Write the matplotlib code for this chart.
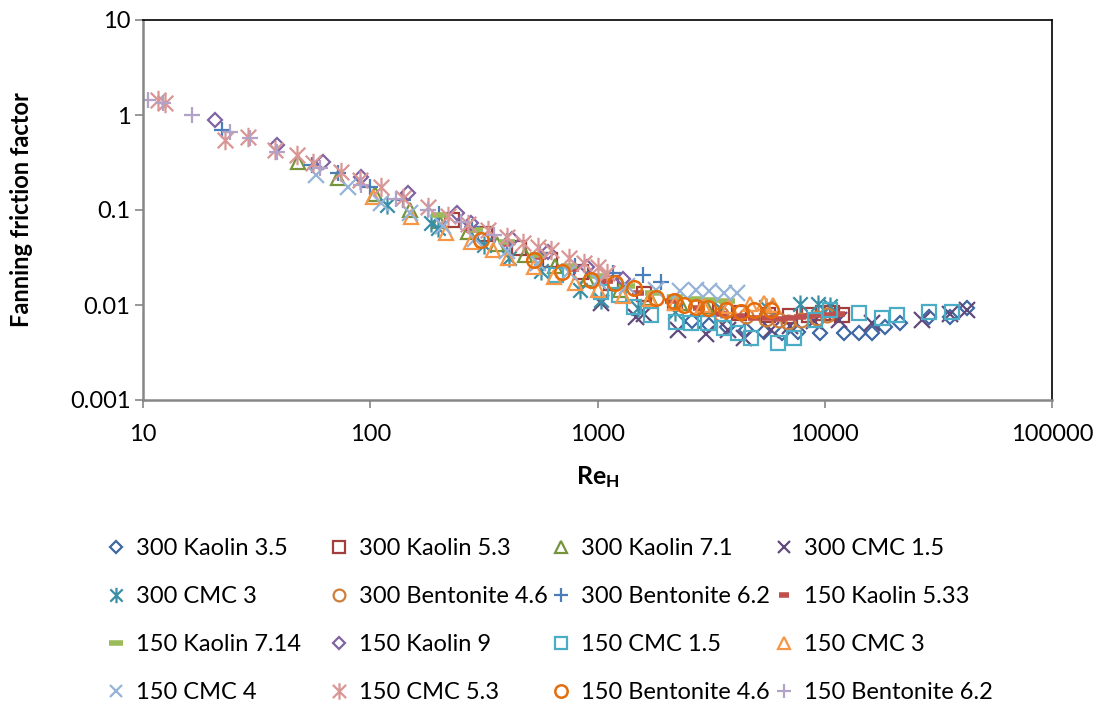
import matplotlib
matplotlib.use("Agg")
import matplotlib.pyplot as plt
from matplotlib.path import Path
from matplotlib.ticker import FixedLocator, FixedFormatter, NullLocator

plt.rcParams['font.family'] = ['Lato', 'DejaVu Sans']
plt.rcParams['mathtext.fontset'] = 'custom'
plt.rcParams['mathtext.bf'] = 'Lato:bold'
plt.rcParams['mathtext.rm'] = 'Lato'

FS = 17

# ---------------- data (Re_H, Fanning friction factor) ----------------
re_300_kaolin_35 = [2600, 3100, 3700, 4500, 5400, 6500, 7600, 9500, 12200, 14200, 16100, 18500, 21400, 28700, 35500, 42200]
f_300_kaolin_35 = [0.0068, 0.0062, 0.0058, 0.0055, 0.0052, 0.0051, 0.0052, 0.0051, 0.0051, 0.0051, 0.0051, 0.0058, 0.0065, 0.0075, 0.0075, 0.0092]

re_300_kaolin_53 = [230, 320, 450, 620, 850, 1150, 1600, 2200, 3000, 4200, 5600, 7000, 8500, 9800, 10800, 11900]
f_300_kaolin_53 = [0.078, 0.056, 0.040, 0.030, 0.022, 0.017, 0.013, 0.0105, 0.0090, 0.0082, 0.0078, 0.0076, 0.0078, 0.0082, 0.0083, 0.0079]

re_300_kaolin_71 = [48, 72, 105, 150, 200, 270, 360, 480, 650, 900, 1250, 1700, 2300, 3000]
f_300_kaolin_71 = [0.32, 0.215, 0.148, 0.100, 0.076, 0.058, 0.044, 0.034, 0.026, 0.019, 0.0145, 0.0118, 0.0105, 0.0098]

re_300_cmc_15 = [1035, 1480, 1600, 2260, 3000, 3770, 4430, 5820, 7000, 9000, 11600, 16100, 26700, 35500, 42200]
f_300_cmc_15 = [0.0105, 0.0075, 0.0080, 0.0055, 0.0050, 0.0055, 0.0045, 0.0055, 0.0060, 0.0068, 0.0070, 0.0065, 0.0070, 0.0080, 0.0088]

re_300_cmc_3 = [119, 185, 198, 316, 407, 563, 841, 1035, 1500, 2200, 3500, 5500, 7800, 9300, 10500]
f_300_cmc_3 = [0.113, 0.073, 0.065, 0.043, 0.031, 0.023, 0.0144, 0.0114, 0.0092, 0.0085, 0.0090, 0.0095, 0.0103, 0.0103, 0.0098]

re_300_bent_46 = [3500, 4500, 5500, 6300, 6900, 7900, 9200, 10200]
f_300_bent_46 = [0.0080, 0.0076, 0.0072, 0.0070, 0.0066, 0.0070, 0.0073, 0.0078]

re_300_bent_62 = [22.3, 55.6, 72.4, 100, 140, 200, 280, 400, 560, 800, 1170, 1590, 1900]
f_300_bent_62 = [0.695, 0.298, 0.245, 0.175, 0.128, 0.090, 0.066, 0.047, 0.035, 0.026, 0.0216, 0.0207, 0.0175]

re_150_kaolin_533 = [280, 400, 560, 780, 1100, 1500, 2100, 2800, 3500, 4200, 4900, 5600, 6300, 7000, 7800, 8600, 9500, 10500, 11500]
f_150_kaolin_533 = [0.062, 0.044, 0.032, 0.024, 0.018, 0.0135, 0.011, 0.0092, 0.0080, 0.0076, 0.0073, 0.0073, 0.0072, 0.0073, 0.0074, 0.0076, 0.0078, 0.0079, 0.0081]

re_150_kaolin_714 = [200, 290, 400, 550, 750, 1000, 1350, 1750, 2200, 2700, 3200, 3700]
f_150_kaolin_714 = [0.088, 0.062, 0.046, 0.034, 0.026, 0.020, 0.016, 0.0135, 0.0122, 0.0115, 0.0112, 0.0110]

re_150_kaolin_9 = [20.8, 39, 62, 90.6, 146, 242, 277, 420, 605, 900, 1300]
f_150_kaolin_9 = [0.886, 0.483, 0.32, 0.222, 0.151, 0.093, 0.073, 0.050, 0.036, 0.025, 0.019]

re_150_cmc_15 = [656, 1035, 1240, 1450, 1720, 2220, 2580, 3070, 3610, 4170, 4750, 6250, 7360, 9020, 10500, 14100, 17800, 20700, 28700, 36200]
f_150_cmc_15 = [0.0207, 0.0137, 0.0127, 0.0095, 0.0078, 0.0066, 0.0064, 0.0064, 0.0057, 0.0051, 0.0045, 0.0040, 0.0045, 0.0070, 0.0089, 0.0083, 0.0073, 0.0078, 0.0084, 0.0084]

re_150_cmc_3 = [103, 151, 215, 277, 346, 403, 525, 643, 800, 1000, 1300, 1700, 2200, 2900, 3800, 4700, 5400, 5900]
f_150_cmc_3 = [0.137, 0.084, 0.057, 0.046, 0.0377, 0.0316, 0.025, 0.0197, 0.017, 0.0145, 0.0125, 0.0115, 0.0105, 0.010, 0.0098, 0.0102, 0.0105, 0.0100]

re_150_cmc_4 = [58, 80, 111, 150, 210, 290, 400, 550, 750, 1000, 1350, 1800, 2300, 2700, 3100, 3600, 4100]
f_150_cmc_4 = [0.233, 0.175, 0.118, 0.093, 0.068, 0.05, 0.037, 0.028, 0.022, 0.018, 0.016, 0.0145, 0.0140, 0.0144, 0.0140, 0.0135, 0.0133]

re_150_cmc_53 = [11.6, 12.5, 23, 29, 38, 47.7, 56, 74, 90, 111, 140, 179, 220, 270, 329, 400, 470, 547, 624, 750, 870, 1005, 1100]
f_150_cmc_53 = [1.44, 1.35, 0.546, 0.59, 0.43, 0.38, 0.31, 0.25, 0.205, 0.175, 0.135, 0.108, 0.087, 0.072, 0.062, 0.052, 0.045, 0.041, 0.038, 0.031, 0.028, 0.025, 0.0216]

re_150_bent_46 = [306, 525, 700, 935, 1200, 1450, 1810, 2170, 2400, 2720, 3070, 3690, 4300, 4900, 5820]
f_150_bent_46 = [0.048, 0.030, 0.022, 0.0183, 0.017, 0.0151, 0.0118, 0.0109, 0.0100, 0.0095, 0.0093, 0.0089, 0.0085, 0.0089, 0.0089]

re_150_bent_62 = [10.5, 12.3, 16.4, 24.2, 29.7, 39, 60, 90.6, 130, 180, 250, 350]
f_150_bent_62 = [1.44, 1.34, 1.0, 0.66, 0.57, 0.41, 0.276, 0.183, 0.13, 0.1, 0.075, 0.055]

labels = ["300 Kaolin 3.5", "300 Kaolin 5.3", "300 Kaolin 7.1", "300 CMC 1.5",
          "300 CMC 3", "300 Bentonite 4.6", "300 Bentonite 6.2", "150 Kaolin 5.33",
          "150 Kaolin 7.14", "150 Kaolin 9", "150 CMC 1.5", "150 CMC 3",
          "150 CMC 4", "150 CMC 5.3", "150 Bentonite 4.6", "150 Bentonite 6.2"]

x_ticks = [10, 100, 1000, 10000, 100000]
x_tick_labels = ["10", "100", "1000", "10000", "100000"]
y_ticks = [0.001, 0.01, 0.1, 1, 10]
y_tick_labels = ["0.001", "0.01", "0.1", "1", "10"]

# ---------------- styles ----------------
star = Path([(-1, -1), (1, 1), (-1, 1), (1, -1), (0, -1.25), (0, 1.25)],
            [Path.MOVETO, Path.LINETO, Path.MOVETO, Path.LINETO, Path.MOVETO, Path.LINETO])

series = [
    (re_300_kaolin_35, f_300_kaolin_35, dict(marker='D', ms=6.8, color='#3D68A3', mew=1.6)),
    (re_300_kaolin_53, f_300_kaolin_53, dict(marker='s', ms=9.5, color='#A23E3B', mew=1.6)),
    (re_300_kaolin_71, f_300_kaolin_71, dict(marker='^', ms=10, color='#77933C', mew=1.6)),
    (re_300_cmc_15, f_300_cmc_15, dict(marker='x', ms=11, color='#604A7B', mew=1.6)),
    (re_300_cmc_3, f_300_cmc_3, dict(marker=star, ms=13, color='#3A8EA5', mew=1.6)),
    (re_300_bent_46, f_300_bent_46, dict(marker='o', ms=10, color='#CD7F3A', mew=1.6)),
    (re_300_bent_62, f_300_bent_62, dict(marker='+', ms=12, color='#4A7EBB', mew=1.6)),
    (re_150_kaolin_533, f_150_kaolin_533, dict(marker='_', ms=8, color='#C0504D', mew=4)),
    (re_150_kaolin_714, f_150_kaolin_714, dict(marker='_', ms=12, color='#9BBB59', mew=4)),
    (re_150_kaolin_9, f_150_kaolin_9, dict(marker='D', ms=6.8, color='#8064A2', mew=1.6)),
    (re_150_cmc_15, f_150_cmc_15, dict(marker='s', ms=10, color='#4BACC6', mew=1.6)),
    (re_150_cmc_3, f_150_cmc_3, dict(marker='^', ms=10, color='#F79646', mew=1.6)),
    (re_150_cmc_4, f_150_cmc_4, dict(marker='x', ms=11, color='#95B3D7', mew=1.6)),
    (re_150_cmc_53, f_150_cmc_53, dict(marker=star, ms=14, color='#D99694', mew=1.6)),
    (re_150_bent_46, f_150_bent_46, dict(marker='o', ms=10.5, color='#E46C0A', mew=1.8)),
    (re_150_bent_62, f_150_bent_62, dict(marker='+', ms=12, color='#B3A2C7', mew=1.6)),
]

fig = plt.figure(figsize=(11.02, 7.09), dpi=100)
W, H = 1102, 709
ax = fig.add_axes([143 / W, 1 - 400 / H, (1052 - 143) / W, (400 - 20) / H])

handles = []
for (xs, ys, st), lab in zip(series, labels):
    st = dict(st)
    c = st.pop('color')
    h, = ax.plot(xs, ys, linestyle='none', markerfacecolor='none',
                 markeredgecolor=c, label=lab, **st)
    handles.append(h)

ax.set_xscale('log')
ax.set_yscale('log')
ax.set_xlim(10, 100000)
ax.set_ylim(0.001, 10)
ax.xaxis.set_major_locator(FixedLocator(x_ticks))
ax.xaxis.set_major_formatter(FixedFormatter(x_tick_labels))
ax.yaxis.set_major_locator(FixedLocator(y_ticks))
ax.yaxis.set_major_formatter(FixedFormatter(y_tick_labels))
ax.xaxis.set_minor_locator(NullLocator())
ax.yaxis.set_minor_locator(NullLocator())
ax.tick_params(axis='both', which='major', labelsize=FS, length=6, width=1.2,
               color='#868686', direction='out')
ax.tick_params(axis='x', pad=11)
ax.tick_params(axis='y', pad=3)

for s in ['left', 'bottom']:
    ax.spines[s].set_color('#868686')
    ax.spines[s].set_linewidth(1.8)
for s in ['top', 'right']:
    ax.spines[s].set_color('black')
    ax.spines[s].set_linewidth(1.2)

ax.set_ylabel('Fanning friction factor', fontsize=FS, fontweight='bold')
ax.yaxis.set_label_coords(-0.121, 0.5)
ax.set_xlabel(r'$\mathbf{Re_H}$', fontsize=FS + 1)
ax.xaxis.set_label_coords(0.5, -0.17)

# legend: 4 columns laid out row-wise like the original
col_x = [105, 328, 550, 773]
for j in range(4):
    hs = [handles[j + 4 * i] for i in range(4)]
    ls = [labels[j + 4 * i] for i in range(4)]
    leg = fig.legend(hs, ls, loc='upper left', bbox_to_anchor=(col_x[j] / W, 1 - 538 / H),
                     frameon=False, fontsize=FS, handlelength=0.9, handletextpad=0.4,
                     labelspacing=1.15, borderpad=0, borderaxespad=0, markerscale=0.85)

fig.savefig('out.png', dpi=100)
